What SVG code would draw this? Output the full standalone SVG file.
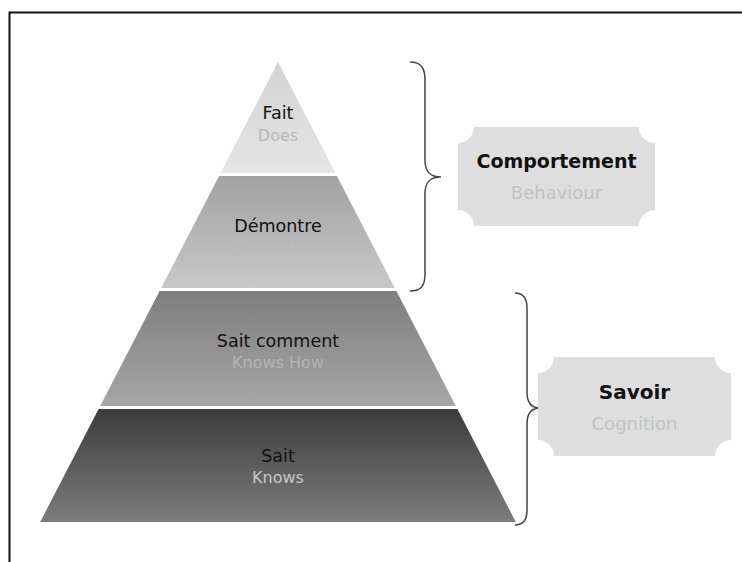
<svg xmlns="http://www.w3.org/2000/svg" width="742" height="562" viewBox="0 0 742 562">
<defs>
<linearGradient id="g1" x1="0" y1="0" x2="0" y2="1"><stop offset="0" stop-color="#d2d2d2"/><stop offset="1" stop-color="#e6e6e6"/></linearGradient>
<linearGradient id="g2" x1="0" y1="0" x2="0" y2="1"><stop offset="0" stop-color="#a2a2a2"/><stop offset="1" stop-color="#c8c8c8"/></linearGradient>
<linearGradient id="g3" x1="0" y1="0" x2="0" y2="1"><stop offset="0" stop-color="#7e7e7e"/><stop offset="1" stop-color="#a6a6a6"/></linearGradient>
<linearGradient id="g4" x1="0" y1="0" x2="0" y2="1"><stop offset="0" stop-color="#3c3c3c"/><stop offset="1" stop-color="#7c7c7c"/></linearGradient>
</defs>
<style>
text{font-family:"DejaVu Sans","Liberation Sans",sans-serif;text-anchor:middle}
.main{font-size:17.5px;fill:#111}
.sub{font-size:16px}
.head{font-size:19px;font-weight:bold;fill:#111}
.hsub{font-size:18px;fill:#c2c2c2}
.box{fill:#dedede}
.brace{fill:none;stroke:#444;stroke-width:1.5}
</style>
<rect width="742" height="562" fill="#fff"/>
<path d="M9.5,562 V12.5 H742" fill="none" stroke="#111" stroke-width="2"/>
<g id="tier-fait">
<polygon points="278,62 335.4,173 220.6,173" fill="url(#g1)"/>
<text class="main" x="278" y="119">Fait</text>
<text class="sub" x="278" y="141" fill="#b8b8b8">Does</text>
</g>
<g id="tier-demontre">
<polygon points="219.1,176 336.9,176 394.8,288 161.2,288" fill="url(#g2)"/>
<text class="main" x="278" y="232">Démontre</text>
<text class="sub" x="278" y="252" fill="#bdbdbd">Shows  How</text>
</g>
<g id="tier-sait-comment">
<polygon points="159.6,291 396.4,291 455.8,406 100.2,406" fill="url(#g3)"/>
<text class="main" x="278" y="347">Sait comment</text>
<text class="sub" x="278" y="368" fill="#b4b4b4">Knows  How</text>
</g>
<g id="tier-sait">
<polygon points="98.6,409 457.4,409 515.8,522 40.2,522" fill="url(#g4)"/>
<text class="main" x="278" y="462">Sait</text>
<text class="sub" x="278" y="483" fill="#c8c8c8">Knows</text>
</g>
<g id="connectors">
<path class="brace" d="M410,62 C421,62 425,68 425,80 V160 C425,172 430,177 441,177 C430,177 425,182 425,194 V274 C425,286 421,291 410,291"/>
<path class="brace" d="M515,293 C523,293 527,298 527,308 V392 C527,403 531,408 540,408 C531,408 527,413 527,424 V510 C527,520 523,525 515,525"/>
</g>
<g id="box-comportement">
<path class="box" d="M474,127 H639 A16,16 0 0 0 655,143 V210 A16,16 0 0 0 639,226 H474 A16,16 0 0 0 458,210 V143 A16,16 0 0 0 474,127 Z"/>
<text class="head" x="556.5" y="168">Comportement</text>
<text class="hsub" x="556.5" y="199">Behaviour</text>
</g>
<g id="box-savoir">
<path class="box" d="M554,357 H715 A16,16 0 0 0 731,373 V440 A16,16 0 0 0 715,456 H554 A16,16 0 0 0 538,440 V373 A16,16 0 0 0 554,357 Z"/>
<text class="head" x="634.5" y="399" style="font-size:20px">Savoir</text>
<text class="hsub" x="634.5" y="430">Cognition</text>
</g>
</svg>
